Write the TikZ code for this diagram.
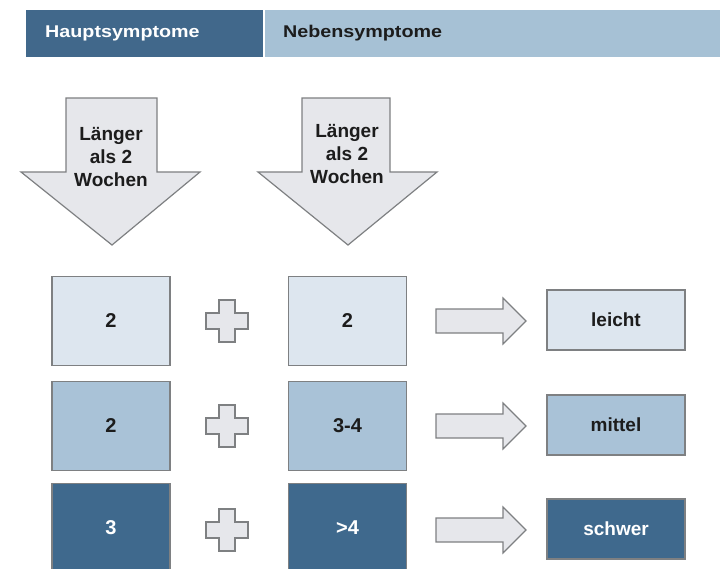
\documentclass[tikz,border=0pt]{standalone}
\usepackage{fontspec}
\setmainfont{Liberation Sans}
\definecolor{darkblue}{HTML}{41688B}
\definecolor{headlight}{HTML}{A6C1D5}
\definecolor{rowone}{HTML}{DDE6EF}
\definecolor{rowtwo}{HTML}{A9C2D7}
\definecolor{rowthree}{HTML}{3F698D}
\definecolor{arrowfill}{HTML}{E6E7EB}
\definecolor{edgegray}{HTML}{7E8082}
\definecolor{inkdark}{HTML}{1C1C1C}
\tikzset{
  sbox/.style={rectangle, draw=edgegray, line width=1.2pt, inner sep=0pt,
    minimum width=118pt, minimum height=89pt,
    font=\fontsize{20}{24}\selectfont\bfseries},
  rbox/.style={rectangle, draw=edgegray, line width=1.2pt, inner sep=0pt,
    minimum width=138pt, minimum height=60pt,
    font=\fontsize{19}{22}\selectfont\bfseries},
  shapeline/.style={draw=edgegray, line width=1.2pt, fill=arrowfill, line join=miter},
  lbl/.style={align=center, font=\fontsize{19}{23}\selectfont\bfseries, text=inkdark},
  hdrtext/.style={anchor=west, inner sep=0pt, font=\fontsize{17}{20}\selectfont\bfseries}
}
\begin{document}
\begin{tikzpicture}[x=1pt,y=-1pt]
\useasboundingbox (0,0) rectangle (720,569);
\clip (0,0) rectangle (720,569);
% header
\fill[darkblue] (26,10) rectangle (263,57);
\fill[headlight] (265,10) rectangle (720,57);
\node[hdrtext, text=white] (hh) at (45,33) {\scalebox{1.16}[1]{Hauptsymptome}};
\node[hdrtext, text=inkdark] (nh) at (283,33) {\scalebox{1.16}[1]{Nebensymptome}};
% down arrows
\draw[shapeline] (66,98) -- (157,98) -- (157,172) -- (200,172) -- (112,245) -- (21,172) -- (66,172) -- cycle;
\draw[shapeline] (302,98) -- (390,98) -- (390,172) -- (437,172) -- (348,245) -- (258,172) -- (302,172) -- cycle;
\node[lbl] (la) at (111,157) {Länger\\als 2\\Wochen};
\node[lbl] (lb) at (347,154) {Länger\\als 2\\Wochen};
% boxes row 1
\node[sbox, fill=rowone, text=inkdark] (a1) at (111,321) {2};
\node[sbox, fill=rowone, text=inkdark] (b1) at (347.5,321) {2};
\node[rbox, fill=rowone, text=inkdark] (r1) at (616,320) {leicht};
% row 2
\node[sbox, fill=rowtwo, text=inkdark] (a2) at (111,426) {2};
\node[sbox, fill=rowtwo, text=inkdark] (b2) at (347.5,426) {3-4};
\node[rbox, fill=rowtwo, text=inkdark] (r2) at (616,425) {mittel};
% row 3
\node[sbox, fill=rowthree, text=white] (a3) at (111,528) {3};
\node[sbox, fill=rowthree, text=white] (b3) at (347.5,528) {>4};
\node[rbox, fill=rowthree, text=white] (r3) at (616,529) {schwer};
% plus signs and right arrows
\foreach \yy in {321,426,530} {
  \draw[shapeline] (219,\yy-21) -- (235,\yy-21) -- (235,\yy-8) -- (248,\yy-8) -- (248,\yy+8) -- (235,\yy+8) -- (235,\yy+21) -- (219,\yy+21) -- (219,\yy+8) -- (206,\yy+8) -- (206,\yy-8) -- (219,\yy-8) -- cycle;
  \draw[shapeline] (436,\yy-12) -- (503,\yy-12) -- (503,\yy-23) -- (526,\yy) -- (503,\yy+23) -- (503,\yy+12) -- (436,\yy+12) -- cycle;
}
\end{tikzpicture}
\end{document}
